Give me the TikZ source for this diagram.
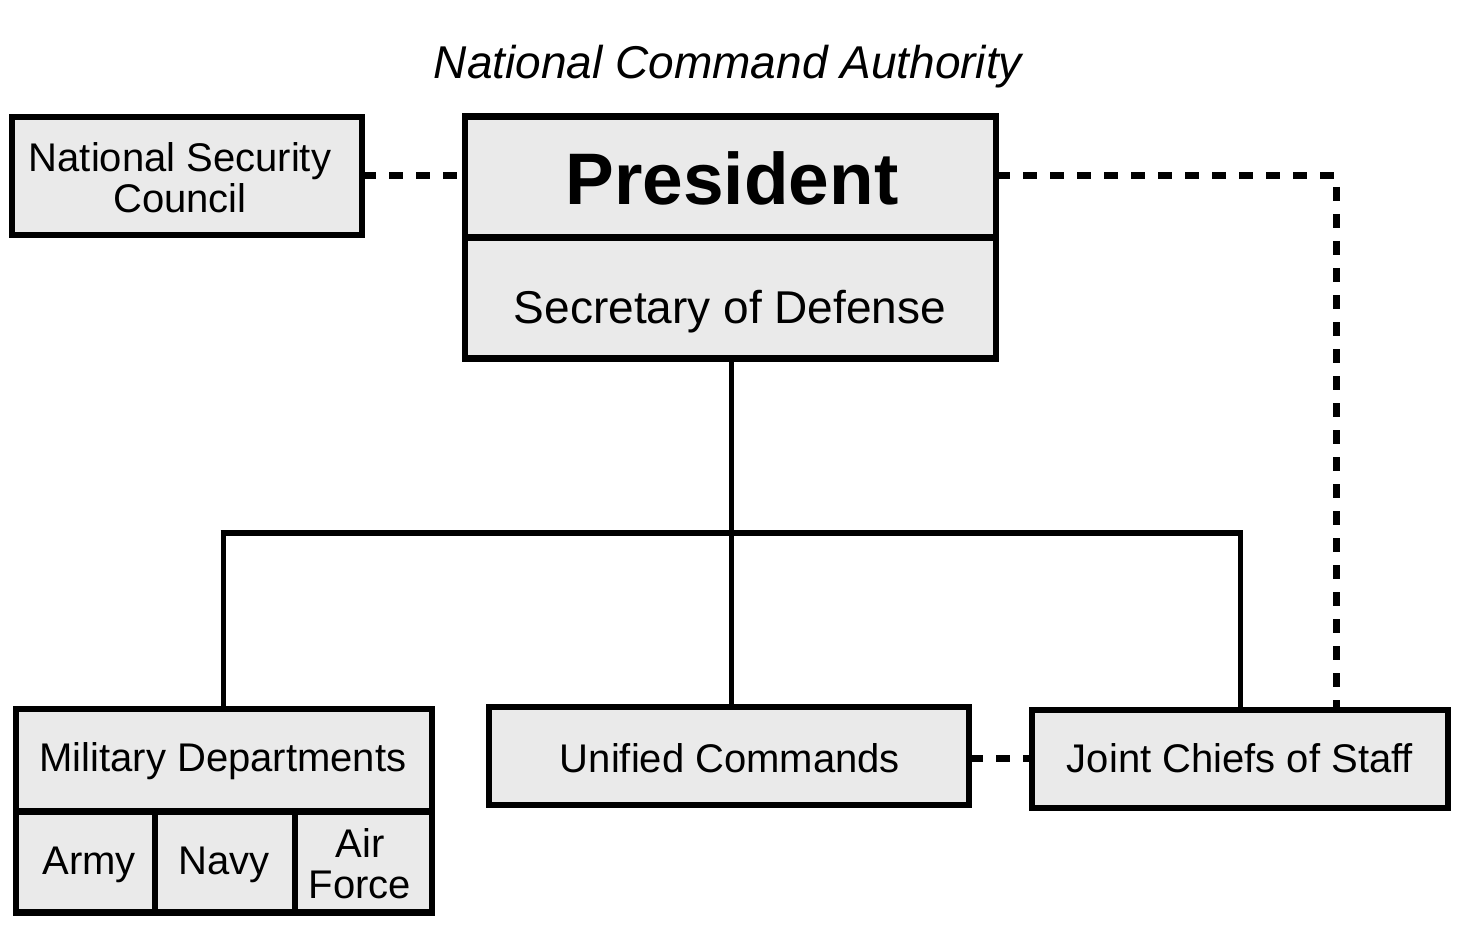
\documentclass[tikz,border=0pt]{standalone}
\usepackage{fontspec}
\setmainfont{Liberation Sans}
\definecolor{boxfill}{RGB}{234,234,234}
\begin{document}
\begin{tikzpicture}[x=1pt,y=-1pt,
  box/.style={draw=black,line width=6.5pt,fill=boxfill,inner sep=0pt,outer sep=0pt,rectangle},
  lbl/.style={inner sep=0pt,font=\fontsize{40}{41}\selectfont,align=center},
  link/.style={line width=5pt,black},
  dotlink/.style={line width=7pt,black,dash pattern=on 14pt off 13pt}]
\useasboundingbox (0,0) rectangle (1465,936);
% coordinates
\coordinate (busL) at (223,533);
\coordinate (busR) at (1240,533);
\coordinate (busC) at (731,533);
\coordinate (jcsCorner) at (1336,176);
% boxes
\node[box,minimum width=531pt,minimum height=121pt] (pres) at (730.5,177) {};
\node[box,minimum width=531pt,minimum height=121pt] (secdef) at (730.5,298) {};
\node[box,minimum width=350pt,minimum height=118pt] (nsc) at (187,176) {};
\node[box,minimum width=416pt,minimum height=102pt] (mil) at (224,760) {};
\node[box,minimum width=139pt,minimum height=101pt] (army) at (85.5,862) {};
\node[box,minimum width=140pt,minimum height=101pt] (navy) at (225,862) {};
\node[box,minimum width=137pt,minimum height=101pt] (airf) at (363.5,862) {};
\node[box,minimum width=480pt,minimum height=98pt] (uni) at (729,756) {};
\node[box,minimum width=416pt,minimum height=98pt] (jcs) at (1240,759) {};
% connectors
\draw[link] (secdef.south -| busC) -- (uni.north -| busC);
\draw[line width=6pt] ([xshift=-2.5pt]busL) -- ([xshift=2.5pt]busR);
\draw[link] (busL) -- (mil.north -| busL);
\draw[link] (busR) -- (jcs.north -| busR);
\draw[dotlink] (nsc.east |- 0,176) -- (pres.west |- 0,176);
\draw[dotlink] (pres.east |- 0,176) -- (jcsCorner) -- (jcs.north -| jcsCorner);
\draw[dotlink] (uni.east |- 0,758) -- (jcs.west |- 0,758);
% texts
\node[inner sep=0pt,font=\fontsize{46}{48}\selectfont\itshape] (nca) at (728,67) {National Command Authority};
\node[lbl] (nsct) at (180,178) {National Security\\Council};
\node[inner sep=0pt,font=\fontsize{73}{75}\selectfont\bfseries] (prest) at (732,178) {President};
\node[inner sep=0pt,font=\fontsize{46}{48}\selectfont] (secdeft) at (730,312) {Secretary of Defense};
\node[lbl] (milt) at (223,761) {Military Departments};
\node[lbl] (armyt) at (89,865) {Army};
\node[lbl] (navyt) at (224,865) {Navy};
\node[lbl] (airft) at (360,864) {Air\\Force};
\node[lbl] (unit) at (730,758) {Unified Commands};
\node[lbl] (jcst) at (1240,758) {Joint Chiefs of Staff};
\end{tikzpicture}
\end{document}
